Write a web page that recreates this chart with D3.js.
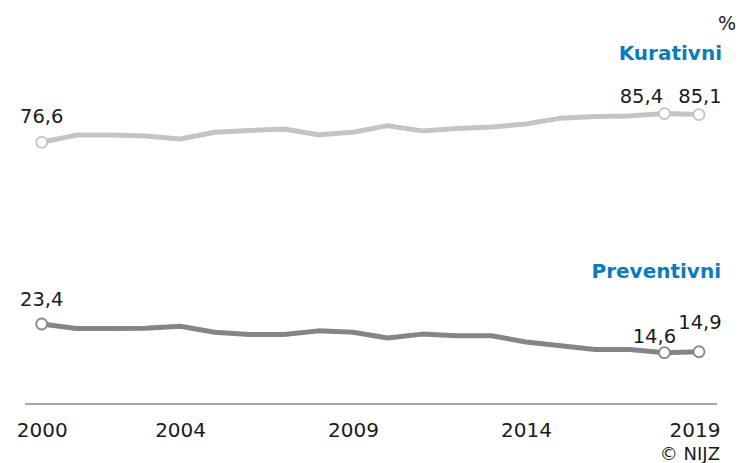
<!DOCTYPE html>
<html>
<head>
<meta charset="utf-8">
<script src="https://cdn.jsdelivr.net/npm/d3@7"></script>
<style>
  html, body { margin: 0; padding: 0; background: #fff; }
  svg { display: block; font-family: "DejaVu Sans", Verdana, sans-serif; }
</style>
</head>
<body>
<svg id="chart" width="742" height="463"></svg>
<script>
const years = d3.range(2000, 2020);
const kurativni = [76.6, 78.8, 78.8, 78.5, 77.6, 79.7, 80.2, 80.7, 78.9, 79.7, 81.7, 80.1, 80.8, 81.3, 82.2, 84.0, 84.5, 84.7, 85.4, 85.1];
const preventivni = [23.4, 22.0, 22.0, 22.1, 22.7, 20.9, 20.2, 20.2, 21.3, 20.9, 19.1, 20.3, 19.8, 19.8, 17.9, 16.7, 15.6, 15.6, 14.6, 14.9];
const tickYears = [2000, 2004, 2009, 2014, 2019];
const labeledYears = [2000, 2018, 2019];

const svg = d3.select("#chart");
const x = d3.scaleLinear().domain([2000, 2019]).range([41.7, 699]);
// two stacked panels with the same vertical scale (px per unit)
const yTop = d3.scaleLinear().domain([70, 90]).range([163.8, 98.6]);
const yBottom = d3.scaleLinear().domain([10, 30]).range([367.7, 302.5]);

const fmt = v => d3.format(".1f")(v).replace(".", ",");

const series = [
  { name: "Kurativni", values: kurativni, color: "#c4c4c4", y: yTop,
    labelDy: { 2000: -19, 2018: -11, 2019: -12 }, labelDx: { 2000: 0, 2018: -23, 2019: 1 } },
  { name: "Preventivni", values: preventivni, color: "#858585", y: yBottom,
    labelDy: { 2000: -18, 2018: -10, 2019: -23 }, labelDx: { 2000: 0, 2018: -10, 2019: 1 } }
];

series.forEach(s => {
  const line = d3.line().x((d, i) => x(years[i])).y(d => s.y(d));
  svg.append("path")
    .datum(s.values)
    .attr("d", line)
    .attr("fill", "none")
    .attr("stroke", s.color)
    .attr("stroke-width", 5)
    .attr("stroke-linejoin", "round");

  labeledYears.forEach(yr => {
    const i = years.indexOf(yr);
    svg.append("circle")
      .attr("cx", x(yr)).attr("cy", s.y(s.values[i]))
      .attr("r", 5.5)
      .attr("fill", "#fff")
      .attr("stroke", s.color)
      .attr("stroke-width", 1.8);
    svg.append("text")
      .attr("x", x(yr) + s.labelDx[yr])
      .attr("y", s.y(s.values[i]) + s.labelDy[yr])
      .attr("text-anchor", "middle")
      .attr("font-size", 19.5)
      .attr("fill", "#1a1a1a")
      .text(fmt(s.values[i]));
  });
});

// series names
svg.append("text").attr("x", 722).attr("y", 60).attr("text-anchor", "end")
  .attr("font-size", 20).attr("font-weight", "bold").attr("fill", "#0b7bc0").text("Kurativni");
svg.append("text").attr("x", 721).attr("y", 278).attr("text-anchor", "end")
  .attr("font-size", 20).attr("font-weight", "bold").attr("fill", "#0b7bc0").text("Preventivni");

// unit
svg.append("text").attr("x", 736).attr("y", 30).attr("text-anchor", "end")
  .attr("font-size", 19).attr("fill", "#1a1a1a").text("%");

// axis
svg.append("line").attr("x1", 25).attr("x2", 717).attr("y1", 404).attr("y2", 404)
  .attr("stroke", "#8a8a8a").attr("stroke-width", 1.6);

const axis = d3.axisBottom(x).tickValues(tickYears).tickSize(0).tickFormat(d3.format("d"));
const ag = svg.append("g").attr("transform", "translate(0,404)").call(axis);
ag.select(".domain").remove();
ag.selectAll("text")
  .attr("y", 33).attr("dy", 0)
  .attr("font-size", 20)
  .attr("font-family", "DejaVu Sans, Verdana, sans-serif")
  .attr("fill", "#1a1a1a");
ag.selectAll(".tick").filter(d => d === 2019).select("text")
  .attr("text-anchor", "end").attr("x", 21);

// credit
svg.append("text").attr("x", 720).attr("y", 460).attr("text-anchor", "end")
  .attr("font-size", 18).attr("fill", "#1a1a1a").text("© NIJZ");
</script>
</body>
</html>
